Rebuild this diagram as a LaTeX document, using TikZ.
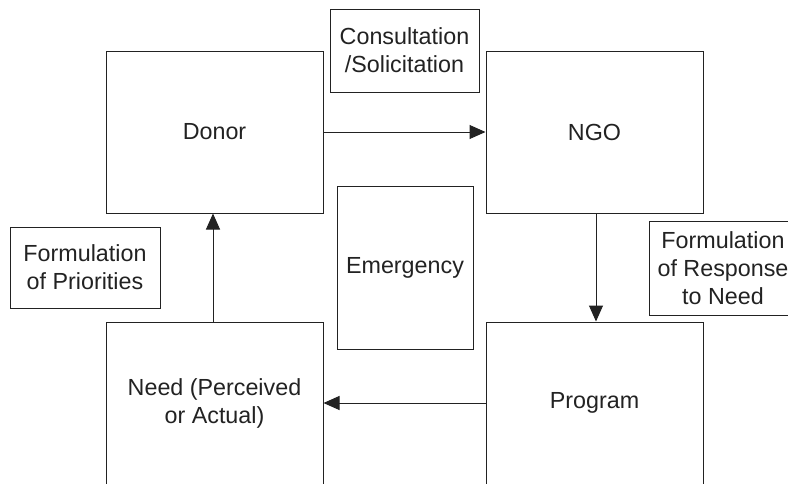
\documentclass[tikz,border=0pt]{standalone}
\usepackage{fontspec}
\setmainfont{Liberation Sans}
\usetikzlibrary{arrows.meta}
\definecolor{ink}{HTML}{222222}
\begin{document}
\begin{tikzpicture}[x=1pt,y=-1pt,
  every node/.style={font=\fontsize{23.3}{28}\selectfont, text=ink, align=center, inner sep=0pt},
  stage/.style={draw=ink, line width=1pt, minimum width=217pt, minimum height=162pt},
  note/.style={draw=ink, line width=1pt},
  flow/.style={draw=ink, line width=1pt, -{Triangle[length=16pt,width=14pt]}}]
\useasboundingbox (0,0) rectangle (788,483);
\clip (0,0) rectangle (788,483);
% the four stages of the cycle
\node[stage] (donor) at (214.5,132) {Donor};
\node[stage] (ngo) at (594.5,132) {NGO};
\node[stage] (need) at (214.5,403) {Need (Perceived\\or Actual)};
\node[stage] (program) at (594.5,403) {Program};
% labels on the links
\node[note, minimum width=149pt, minimum height=83pt] (consult) at (404.5,50.5) {Consultation\\/Solicitation};
\node[note, minimum width=136pt, minimum height=163pt] (emerg) at (405,267.5) {Emergency};
\node[note, minimum width=150pt, minimum height=81pt] (prior) at (85,267.5) {Formulation\\of Priorities};
\node[note, minimum width=148pt, minimum height=94pt] (resp) at (723,268) {Formulation\\of Response\\to Need};
% links between stages
\draw[flow] (donor.east) -- (ngo.west);
\draw[flow] ([xshift=1.5pt]ngo.south) -- ([xshift=1.5pt]program.north);
\draw[flow] (program.west) -- (need.east);
\draw[flow] ([xshift=-1.5pt]need.north) -- ([xshift=-1.5pt]donor.south);
\end{tikzpicture}
\end{document}
